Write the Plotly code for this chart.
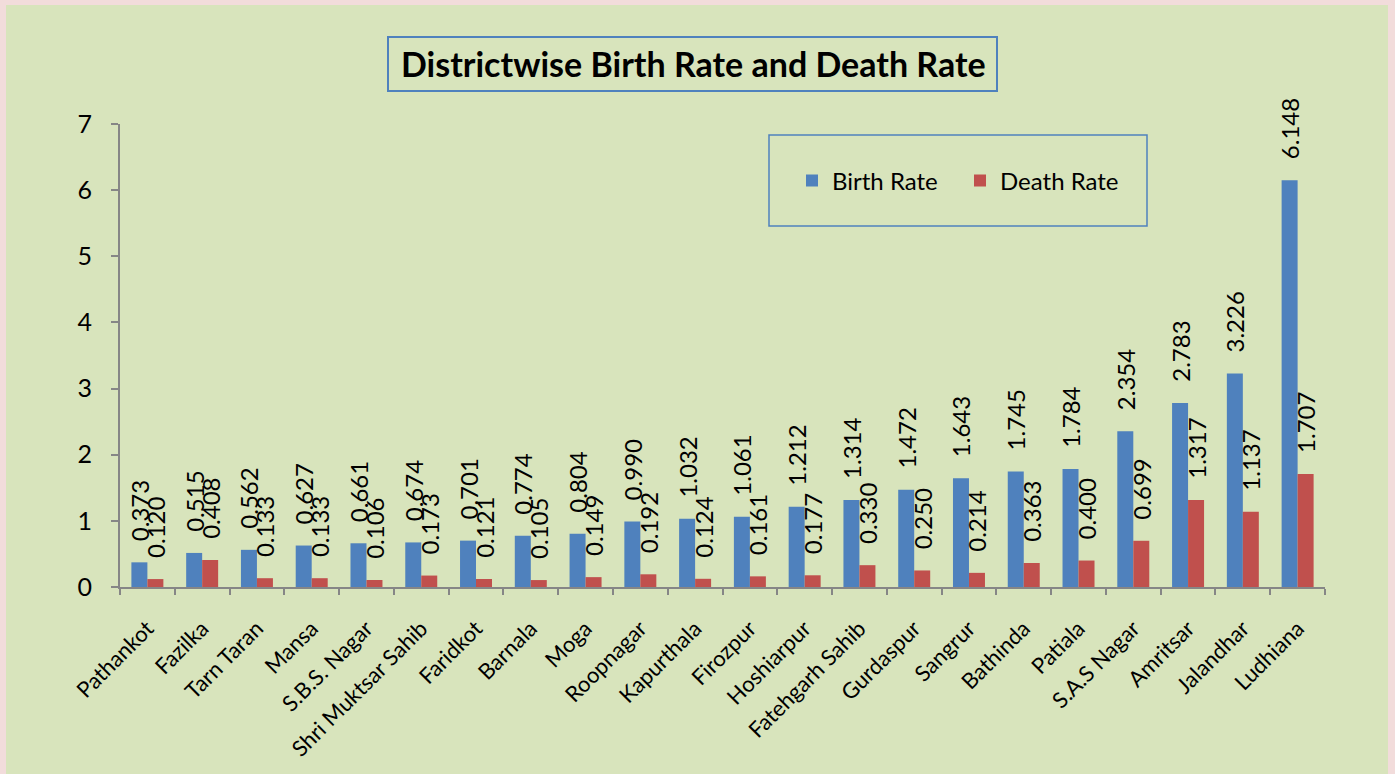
import plotly.graph_objects as go

districts = ["Pathankot", "Fazilka", "Tarn Taran", "Mansa", "S.B.S. Nagar", "Shri Muktsar Sahib",
             "Faridkot", "Barnala", "Moga", "Roopnagar", "Kapurthala", "Firozpur", "Hoshiarpur",
             "Fatehgarh Sahib", "Gurdaspur", "Sangrur", "Bathinda", "Patiala", "S.A.S Nagar",
             "Amritsar", "Jalandhar", "Ludhiana"]
birth_rate = [0.373, 0.515, 0.562, 0.627, 0.661, 0.674, 0.701, 0.774, 0.804, 0.990, 1.032,
              1.061, 1.212, 1.314, 1.472, 1.643, 1.745, 1.784, 2.354, 2.783, 3.226, 6.148]
death_rate = [0.120, 0.408, 0.133, 0.133, 0.106, 0.173, 0.121, 0.105, 0.149, 0.192, 0.124,
              0.161, 0.177, 0.330, 0.250, 0.214, 0.363, 0.400, 0.699, 1.317, 1.137, 1.707]
y_ticks = [0, 1, 2, 3, 4, 5, 6, 7]

FONT = "Lato"
GREEN = "#D8E4BC"
PINK = "#F2DCDB"
BLUE = "#4F81BD"
RED = "#C0504D"
AXIS = "#868686"

W, H = 1395, 774
L, R, T, B = 120, 70, 124, 187
pw, ph = W - L - R, H - T - B


def px(x):
    return (x - L) / pw


def py(y):
    return (H - B - y) / ph


fig = go.Figure()
for name, vals, col in [("Birth Rate", birth_rate, BLUE), ("Death Rate", death_rate, RED)]:
    fig.add_trace(go.Bar(
        x=districts, y=vals, name=name, marker=dict(color=col, line=dict(width=0)),
        text=vals, texttemplate="\u2002\u00a0%{y:.3f}", textposition="outside", textangle=-90,
        textfont=dict(family=FONT, size=24, color="black"),
        constraintext="none", cliponaxis=False,
    ))

shapes = [
    # green chart area inside pink frame
    dict(type="rect", xref="paper", yref="paper", x0=px(6), x1=px(1388), y0=py(774), y1=py(5),
         fillcolor=GREEN, line=dict(width=0), layer="below"),
    # title box
    dict(type="rect", xref="paper", yref="paper", x0=px(388), x1=px(997), y0=py(91), y1=py(37),
         fillcolor="rgba(0,0,0,0)", line=dict(color="#4F81BD", width=2)),
    # legend box
    dict(type="rect", xref="paper", yref="paper", x0=px(769), x1=px(1147), y0=py(226), y1=py(135),
         fillcolor="rgba(0,0,0,0)", line=dict(color="#4F81BD", width=1.5)),
]

fig.update_layout(
    width=W, height=H,
    margin=dict(l=L, r=R, t=T, b=B, pad=0),
    paper_bgcolor=PINK, plot_bgcolor=GREEN,
    barmode="group", bargap=0.416, bargroupgap=0,
    font=dict(family=FONT, color="black"),
    shapes=shapes,
    annotations=[dict(text="<b>Districtwise Birth Rate and Death Rate</b>", xref="paper", yref="paper",
                      x=px(693), y=py(64), xanchor="center", yanchor="middle", showarrow=False,
                      font=dict(family=FONT, size=34, color="black"))],
    showlegend=True,
    legend=dict(orientation="h", x=px(792), y=py(181), xanchor="left", yanchor="middle",
                bgcolor="rgba(0,0,0,0)", borderwidth=0, font=dict(family=FONT, size=24, color="black"),
                entrywidth=123, entrywidthmode="pixels", traceorder="normal"),
    xaxis=dict(showline=True, linecolor=AXIS, linewidth=2, ticks="outside", tickson="boundaries",
               ticklen=6, tickwidth=2, tickcolor=AXIS, tickangle=-45, showgrid=False,
               tickfont=dict(family=FONT, size=22, color="black"), ticklabelstandoff=18),
    yaxis=dict(range=[0, 7], tickvals=y_ticks, showline=True, linecolor=AXIS, linewidth=2,
               ticks="outside", ticklen=7, tickwidth=2, tickcolor=AXIS, showgrid=False, zeroline=False,
               tickfont=dict(family=FONT, size=25, color="black"), ticklabelstandoff=14),
)

fig.write_html("out.html", config={"displayModeBar": False},
               post_script="document.body.style.margin='0';")
